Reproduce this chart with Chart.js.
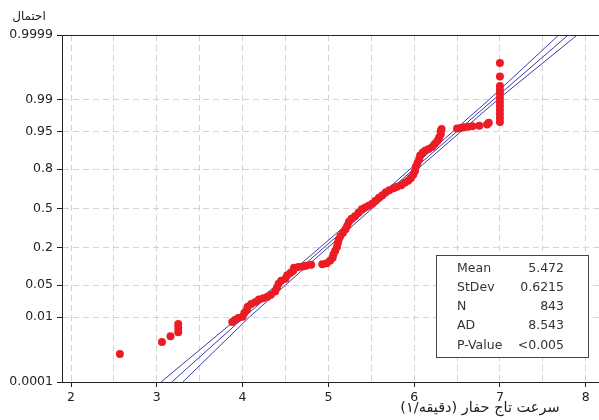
<!DOCTYPE html>
<html>
<head>
<meta charset="utf-8">
<script src="https://cdn.jsdelivr.net/npm/chart.js@4.4.0/dist/chart.umd.min.js"></script>
<style>
  html, body { margin: 0; background: #fff; }
  canvas { display: block; }
</style>
</head>
<body>
<canvas id="probChart" width="599" height="420"></canvas>
<script>
// observed speeds (1/min) and the plotted cumulative probability of each
const speedValues = [
  2.57, 3.06, 3.16, 3.25, 3.25, 3.25,
  3.88, 3.91, 3.95, 4.00, 4.02, 4.05, 4.06, 4.10, 4.15, 4.19, 4.24, 4.29, 4.33, 4.38,
  4.40, 4.42, 4.45, 4.50, 4.52, 4.56, 4.59, 4.60, 4.65, 4.70, 4.74, 4.80,
  4.93, 4.98, 5.02, 5.05, 5.06, 5.08, 5.10, 5.11, 5.12, 5.14, 5.17, 5.20, 5.22, 5.24,
  5.27, 5.31, 5.35, 5.39, 5.43, 5.47, 5.51, 5.55, 5.59, 5.63, 5.67, 5.71, 5.76, 5.80,
  5.85, 5.89, 5.93, 5.96, 5.99, 6.01, 6.02, 6.04, 6.06, 6.07, 6.10, 6.13, 6.17, 6.21,
  6.24, 6.27, 6.29, 6.31, 6.31, 6.32,
  6.50, 6.54, 6.58, 6.63, 6.68, 6.76, 6.85, 6.87,
  7.00, 7.00, 7.00, 7.00, 7.00, 7.00, 7.00, 7.00, 7.00, 7.00, 7.00, 7.00
];
const probValues = [
  0.0009, 0.0021, 0.0031, 0.0040, 0.0052, 0.0066,
  0.0075, 0.0084, 0.0094, 0.0102, 0.0125, 0.0147, 0.0177, 0.0202, 0.0224, 0.0254, 0.0273, 0.0294, 0.0324, 0.0374,
  0.0449, 0.0536, 0.061, 0.0663, 0.0764, 0.0844, 0.0913, 0.1022, 0.105, 0.107, 0.110, 0.114,
  0.116, 0.1204, 0.1316, 0.1457, 0.1636, 0.1827, 0.205, 0.228, 0.2514, 0.276, 0.3015, 0.328, 0.3557, 0.3878,
  0.413, 0.4337, 0.4633, 0.493, 0.508, 0.523, 0.540, 0.5655, 0.5906, 0.611, 0.6357, 0.6515, 0.667, 0.679,
  0.690, 0.709, 0.7234, 0.741, 0.7646, 0.790, 0.814, 0.836, 0.856, 0.8725, 0.8855, 0.8934, 0.899, 0.906,
  0.917, 0.926, 0.935, 0.944, 0.951, 0.956,
  0.957, 0.958, 0.959, 0.960, 0.961, 0.962, 0.964, 0.967,
  0.968, 0.9739, 0.9787, 0.9827, 0.986, 0.9888, 0.9911, 0.993, 0.9945, 0.9957, 0.99767, 0.99909
];

// fitted normal line and its confidence band, read at a few probabilities
const fitProbs = [0.0001, 0.01, 0.5, 0.99, 0.9999];
const fitCenter = [3.175, 4.02, 5.47, 6.92, 7.796];
const fitLower = [3.05, 3.96, 5.43, 6.87, 7.686];
const fitUpper = [3.303, 4.08, 5.51, 6.97, 7.901];

const xTicks = [2, 2.5, 3, 3.5, 4, 4.5, 5, 5.5, 6, 6.5, 7, 7.5, 8];
const yTicks = [0.0001, 0.01, 0.05, 0.2, 0.5, 0.8, 0.95, 0.99, 0.9999];
const yTickLabels = ['0.0001', '0.01', '0.05', '0.2', '0.5', '0.8', '0.95', '0.99', '0.9999'];

const statNames = ['Mean', 'StDev', 'N', 'AD', 'P-Value'];
const statValues = ['5.472', '0.6215', '843', '8.543', '<0.005'];

const xTitle = 'سرعت تاج حفار (دقیقه/۱)';
const yTitle = 'احتمال';

const red = '#ed1c24';
const lineBlue = '#3c3ca6';
const gridColor = '#dcd0d0';
const axisColor = '#222';
const fontFamily = 'DejaVu Sans';

// inverse normal cdf (Acklam), used by the probability scale
function qnorm(p) {
  const a = [-39.69683028665376, 220.9460984245205, -275.9285104469687, 138.3577518672690, -30.66479806614716, 2.506628277459239];
  const b = [-54.47609879822406, 161.5858368580409, -155.6989798598866, 66.80131188771972, -13.28068155288572];
  const c = [-0.007784894002430293, -0.3223964580411365, -2.400758277161838, -2.549732539343734, 4.374664141464968, 2.938163982698783];
  const d = [0.007784695709041462, 0.3224671290700398, 2.445134137142996, 3.754408661907416];
  const pl = 0.02425;
  if (p < pl) {
    const q = Math.sqrt(-2 * Math.log(p));
    return (((((c[0]*q + c[1])*q + c[2])*q + c[3])*q + c[4])*q + c[5]) / ((((d[0]*q + d[1])*q + d[2])*q + d[3])*q + 1);
  }
  if (p > 1 - pl) {
    const q = Math.sqrt(-2 * Math.log(1 - p));
    return -(((((c[0]*q + c[1])*q + c[2])*q + c[3])*q + c[4])*q + c[5]) / ((((d[0]*q + d[1])*q + d[2])*q + d[3])*q + 1);
  }
  const q = p - 0.5, r = q * q;
  return (((((a[0]*r + a[1])*r + a[2])*r + a[3])*r + a[4])*r + a[5])*q / (((((b[0]*r + b[1])*r + b[2])*r + b[3])*r + b[4])*r + 1);
}

// normal probability axis
class ProbitScale extends Chart.LinearScale {
  determineDataLimits() {
    this.min = qnorm(this.options.min);
    this.max = qnorm(this.options.max);
  }
  buildTicks() {
    return yTicks.map(v => ({ value: v }));
  }
  getPixelForValue(value) {
    return super.getPixelForValue(qnorm(value));
  }
}
ProbitScale.id = 'probit';
ProbitScale.defaults = Chart.LinearScale.defaults;
Chart.register(ProbitScale);

const overlay = {
  id: 'overlay',
  afterDraw(chart) {
    const { ctx, chartArea: a } = chart;
    ctx.save();
    // frame line along the top
    ctx.strokeStyle = axisColor;
    ctx.lineWidth = 1;
    ctx.beginPath();
    ctx.moveTo(a.left, a.top + 0.5);
    ctx.lineTo(a.right, a.top + 0.5);
    ctx.stroke();

    // axis titles
    ctx.fillStyle = '#222';
    ctx.textBaseline = 'middle';
    ctx.textAlign = 'center';
    ctx.font = '12px ' + fontFamily;
    ctx.fillText(yTitle, 29, 17);
    ctx.font = '14.5px ' + fontFamily;
    ctx.fillText(xTitle, 480, 408);

    // statistics box
    const bx = 436, by = 255, bw = 152, bh = 102;
    ctx.fillStyle = '#fff';
    ctx.fillRect(bx, by, bw, bh);
    ctx.strokeStyle = '#444';
    ctx.strokeRect(bx + 0.5, by + 0.5, bw, bh);
    ctx.font = '12.5px ' + fontFamily;
    ctx.fillStyle = '#333';
    statNames.forEach((name, i) => {
      const ty = by + 13.5 + i * 19.2;
      ctx.textAlign = 'left';
      ctx.fillText(name, 457, ty);
      ctx.textAlign = 'right';
      ctx.fillText(statValues[i], 564, ty);
    });
    ctx.restore();
  }
};

const lineSet = (xs, order) => ({
  type: 'scatter',
  data: xs.map((x, i) => ({ x: x, y: fitProbs[i] })),
  showLine: true,
  borderColor: lineBlue,
  borderWidth: 1,
  pointRadius: 0,
  fill: false,
  order: order
});

new Chart(document.getElementById('probChart').getContext('2d'), {
  type: 'scatter',
  data: {
    datasets: [
      {
        data: speedValues.map((x, i) => ({ x: x, y: probValues[i] })),
        backgroundColor: red,
        borderWidth: 0,
        pointRadius: 4,
        order: 1
      },
      lineSet(fitLower, 2),
      lineSet(fitCenter, 2),
      lineSet(fitUpper, 2)
    ]
  },
  options: {
    responsive: false,
    animation: false,
    events: [],
    layout: { autoPadding: false, padding: { top: 35, right: 0, left: 0, bottom: 0 } },
    plugins: { legend: { display: false }, tooltip: { enabled: false } },
    font: { family: fontFamily },
    scales: {
      x: {
        type: 'linear',
        min: 1.895,
        max: 8.155,
        afterBuildTicks: s => { s.ticks = xTicks.map(v => ({ value: v })); },
        afterFit: s => { s.height = 38; s.paddingRight = 0; s.paddingLeft = 0; },
        ticks: {
          callback: v => Number.isInteger(v) ? String(v) : '',
          font: { family: fontFamily, size: 12.5 },
          color: '#222',
          padding: 3,
          maxRotation: 0,
          autoSkip: false
        },
        grid: {
          color: gridColor,
          lineWidth: 1,
          tickLength: 5,
          tickColor: c => Number.isInteger(c.tick.value) ? axisColor : 'rgba(0,0,0,0)',
          tickBorderDash: []
        },
        border: { color: axisColor, width: 1, dash: [6, 4] }
      },
      y: {
        type: 'probit',
        min: 0.0001,
        max: 0.9999,
        afterFit: s => { s.width = 62; },
        ticks: {
          callback: (v, i) => yTickLabels[i],
          font: { family: fontFamily, size: 12.5 },
          color: '#222',
          padding: 4,
          autoSkip: false
        },
        grid: {
          color: gridColor,
          lineWidth: 1,
          tickLength: 5,
          tickColor: axisColor,
          tickBorderDash: []
        },
        border: { color: axisColor, width: 1, dash: [6, 4] }
      }
    }
  },
  plugins: [overlay]
});
</script>
</body>
</html>
